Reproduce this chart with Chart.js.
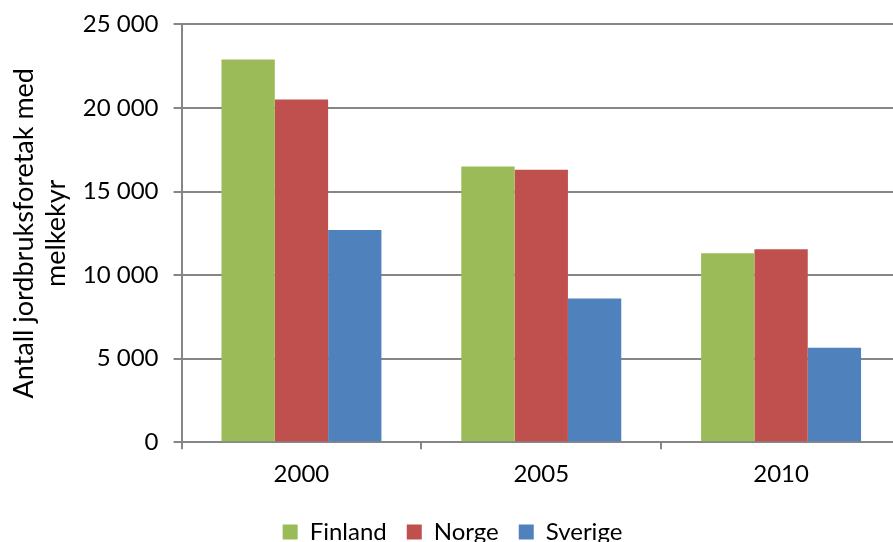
<!DOCTYPE html>
<html>
<head>
<meta charset="utf-8">
<script src="https://cdn.jsdelivr.net/npm/chart.js@4"></script>
<style>
  html, body { margin: 0; padding: 0; background: #fff; overflow: hidden; }
  #wrap { width: 905px; height: 554px; position: relative; }
</style>
</head>
<body>
<div id="wrap"><canvas id="chart"></canvas></div>
<script>
const YEARS = ['2000', '2005', '2010'];
const FINLAND = [22900, 16500, 11300];
const NORGE = [20500, 16300, 11550];
const SVERIGE = [12700, 8600, 5650];
const Y_TICKS = [0, 5000, 10000, 15000, 20000, 25000];

const FONT = 'Lato, "Open Sans", sans-serif';
const GRID = '#868686';

function spaced(v) {
  return String(v).replace(/\B(?=(\d{3})+(?!\d))/g, ' ');
}

new Chart(document.getElementById('chart'), {
  type: 'bar',
  data: {
    labels: YEARS,
    datasets: [
      { label: 'Finland', data: FINLAND, backgroundColor: '#9BBB59' },
      { label: 'Norge', data: NORGE, backgroundColor: '#C0504D' },
      { label: 'Sverige', data: SVERIGE, backgroundColor: '#4F81BD' }
    ]
  },
  options: {
    responsive: true,
    maintainAspectRatio: false,
    animation: false,
    datasets: { bar: { categoryPercentage: 0.667, barPercentage: 1 } },
    layout: { padding: { top: 0, right: 4, left: 4, bottom: 0 } },
    plugins: {
      tooltip: { enabled: false },
      legend: {
        position: 'bottom',
        labels: {
          color: '#000',
          font: { family: FONT, size: 24 },
          boxWidth: 15,
          boxHeight: 15,
          padding: 20
        }
      }
    },
    scales: {
      x: {
        grid: { display: true, drawOnChartArea: false, color: GRID, lineWidth: 2, tickLength: 7 },
        border: { color: GRID, width: 2 },
        ticks: { color: '#000', font: { family: FONT, size: 24 }, padding: 11 }
      },
      y: {
        min: 0,
        max: 25000,
        afterBuildTicks: function (axis) {
          axis.ticks = Y_TICKS.map(function (v) { return { value: v }; });
        },
        // pull the plot area a little closer to the top edge
        afterFit: function (axis) {
          axis.paddingTop = Math.max(0, axis.paddingTop - 5);
        },
        grid: { color: GRID, lineWidth: 2, tickLength: 8 },
        border: { color: GRID, width: 2 },
        ticks: {
          color: '#000',
          font: { family: FONT, size: 24 },
          padding: 15,
          callback: function (v) { return spaced(v); }
        },
        title: {
          display: true,
          text: ['Antall jordbruksforetak med', 'melkekyr'],
          color: '#000',
          font: { family: FONT, size: 27, lineHeight: 1.2 },
          padding: { top: 4, bottom: -5 }
        }
      }
    }
  }
});
</script>
</body>
</html>
